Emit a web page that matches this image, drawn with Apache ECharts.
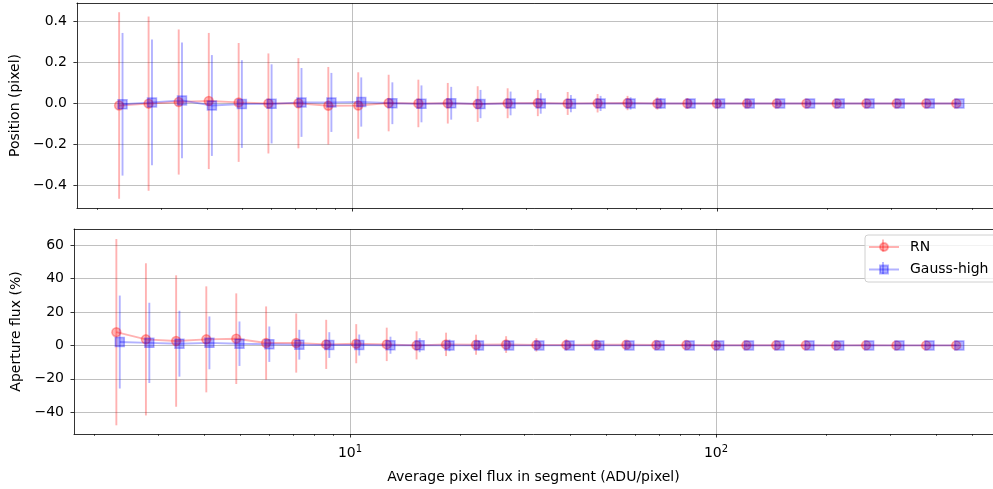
<!DOCTYPE html>
<html>
<head>
<meta charset="utf-8">
<script src="https://cdn.jsdelivr.net/npm/echarts@6/dist/echarts.min.js"></script>
<style>
html,body{margin:0;padding:0;background:#fff;}
#c{width:993px;height:489px;}
</style>
</head>
<body>
<div id="c"></div>
<script>
// ---- data ----
const xFlux = [2.30, 2.77, 3.35, 4.05, 4.89, 5.90, 7.13, 8.61, 10.4, 12.6, 15.2, 18.3, 22.1, 26.7, 32.3, 39.0, 47.1, 56.9, 68.7, 83.0, 100, 121, 146, 176, 213, 257, 311, 375, 453];
const xFluxGauss = [2.35, 2.83, 3.42, 4.13, 4.99, 6.02, 7.27, 8.78, 10.6, 12.9, 15.5, 18.7, 22.5, 27.2, 32.9, 39.8, 48.0, 58.0, 70.1, 84.7, 102, 123, 149, 180, 217, 262, 317, 383, 462];

const posRN = [-0.010, -0.001, 0.007, 0.012, 0.005, 0.000, 0.001, -0.011, -0.010, 0.002, 0.000, 0.001, -0.003, 0.001, 0.002, 0.000, 0.001, 0.002, 0.000, 0.000, 0.000, 0.000, 0.000, 0.000, 0.000, 0.000, 0.000, 0.000, 0.000];
const posRNErr = [0.455, 0.425, 0.354, 0.332, 0.290, 0.244, 0.220, 0.189, 0.162, 0.138, 0.116, 0.099, 0.087, 0.073, 0.064, 0.056, 0.045, 0.035, 0.030, 0.026, 0.021, 0.017, 0.014, 0.012, 0.010, 0.008, 0.007, 0.006, 0.005];
const posGauss = [-0.004, 0.005, 0.015, -0.010, -0.003, -0.002, 0.005, 0.005, 0.007, 0.001, -0.002, 0.001, -0.003, 0.000, 0.000, -0.001, 0.000, 0.000, 0.000, 0.000, 0.000, 0.000, 0.000, 0.000, 0.000, 0.000, 0.000, 0.000, 0.000];
const posGaussErr = [0.348, 0.307, 0.282, 0.246, 0.214, 0.193, 0.168, 0.144, 0.120, 0.102, 0.090, 0.080, 0.069, 0.058, 0.050, 0.042, 0.037, 0.030, 0.025, 0.020, 0.016, 0.013, 0.011, 0.009, 0.007, 0.006, 0.005, 0.004, 0.004];

const apRN = [7.9, 3.6, 2.6, 3.6, 4.0, 1.4, 1.4, 0.6, 1.0, 0.6, 0.0, 0.6, 0.4, 0.5, 0.3, 0.3, 0.4, 0.4, 0.2, 0.2, 0.1, 0.1, 0.1, 0.1, 0.0, 0.1, 0.0, 0.0, 0.0];
const apRNErr = [55.7, 45.5, 39.3, 31.7, 27.1, 21.9, 17.7, 14.7, 11.7, 10.0, 8.4, 7.0, 6.0, 5.0, 4.0, 3.3, 2.7, 2.2, 1.8, 1.5, 1.2, 1.0, 0.8, 0.7, 0.6, 0.5, 0.4, 0.35, 0.3];
const apGauss = [2.0, 1.5, 1.0, 1.5, 1.0, 0.7, 0.4, 0.2, 0.2, 0.1, 0.1, 0.0, 0.0, 0.0, 0.0, 0.0, 0.0, 0.0, 0.0, 0.0, 0.0, 0.0, 0.0, 0.0, 0.0, 0.0, 0.0, 0.0, 0.0];
const apGaussErr = [27.8, 24.0, 19.7, 15.8, 13.3, 10.6, 8.9, 7.7, 6.3, 5.1, 4.2, 3.5, 3.0, 2.5, 2.1, 1.7, 1.4, 1.2, 1.0, 0.8, 0.7, 0.6, 0.5, 0.4, 0.35, 0.3, 0.25, 0.2, 0.2];

const xMajorTicks = [10, 100];
const xMinorTicks = [2, 3, 4, 5, 6, 7, 8, 9, 20, 30, 40, 50, 60, 70, 80, 90, 200, 300, 400, 500];
const posTicks = [-0.4, -0.2, 0.0, 0.2, 0.4];
const apTicks = [-40, -20, 0, 20, 40, 60];

const seriesNames = ['RN', 'Gauss-high'];
const xName = 'Average pixel flux in segment (ADU/pixel)';
const yNames = ['Position (pixel)', 'Aperture flux (%)'];

// ---- chart ----
const FONT = 'DejaVu Sans';
const FS = 14;
const RED = 'rgba(255,0,0,0.3)';
const BLUE = 'rgba(0,0,255,0.3)';

const chart = echarts.init(document.getElementById('c'), null, {renderer: 'canvas'});

function minusFmt(v, digits) {
  return Number(v).toFixed(digits).replace('-', '\u2212');
}

const X_MIN = 1.762, X_MAX = 571;

function xAxesFor(gridIndex, showLabels) {
  return [
    {
      type: 'log', gridIndex, min: X_MIN, max: X_MAX, position: 'bottom',
      axisLine: {show: true, onZero: false, lineStyle: {color: '#000', width: 0.8}},
      axisTick: {show: true, customValues: xMajorTicks, length: 3.5, lineStyle: {color: '#000', width: 0.8}},
      axisLabel: {
        show: showLabels, customValues: xMajorTicks, margin: 10, color: '#000',
        fontFamily: FONT, fontSize: FS,
        formatter: v => '10{s|' + Math.round(Math.log10(v)) + '}',
        rich: {s: {fontSize: 10, verticalAlign: 'top', padding: [0,0,8,0], fontFamily: FONT, color: '#000'}}
      },
      splitLine: {show: true, customValues: xMajorTicks, lineStyle: {color: '#b0b0b0', width: 0.8}},
      name: showLabels ? xName : '', nameLocation: 'middle', nameGap: 36,
      nameTextStyle: {fontFamily: FONT, fontSize: FS, color: '#000'}
    },
    {
      type: 'log', gridIndex, min: X_MIN, max: X_MAX, position: 'bottom',
      axisLine: {show: false, onZero: false},
      axisTick: {show: true, customValues: xMinorTicks, length: 2, lineStyle: {color: '#000', width: 0.6}},
      axisLabel: {show: false},
      splitLine: {show: false}
    },
    {
      type: 'log', gridIndex, min: X_MIN, max: X_MAX, position: 'top',
      axisLine: {show: true, onZero: false, lineStyle: {color: '#000', width: 0.8}},
      axisTick: {show: false}, axisLabel: {show: false}, splitLine: {show: false}
    }
  ];
}

function yAxisFor(gridIndex, min, max, ticks, digits, name, gap) {
  return {
    type: 'value', gridIndex, min, max,
    axisLine: {show: true, onZero: false, lineStyle: {color: '#000', width: 0.8}},
    axisTick: {show: true, customValues: ticks, length: 3.5, lineStyle: {color: '#000', width: 0.8}},
    axisLabel: {customValues: ticks, margin: 10, color: '#000', fontFamily: FONT, fontSize: FS,
      formatter: v => minusFmt(v, digits)},
    splitLine: {show: true, customValues: ticks, lineStyle: {color: '#b0b0b0', width: 0.8}},
    name, nameLocation: 'middle', nameGap: gap, nameRotate: 90,
    nameTextStyle: {fontFamily: FONT, fontSize: FS, color: '#000'}
  };
}

function errSeries(name, xs, ys, es, xAxisIndex, yAxisIndex, color) {
  return {
    type: 'custom', name: name + ' error', xAxisIndex, yAxisIndex, silent: true,
    itemStyle: {color},
    data: xs.map((x, i) => [x, ys[i] - es[i], ys[i] + es[i]]),
    encode: {x: 0, y: [1, 2]},
    renderItem: (params, api) => {
      const p1 = api.coord([api.value(0), api.value(1)]);
      const p2 = api.coord([api.value(0), api.value(2)]);
      return {type: 'line', shape: {x1: p1[0], y1: p1[1], x2: p2[0], y2: p2[1]},
              style: {stroke: color, lineWidth: 1.9}};
    }
  };
}

function lineSeries(name, xs, ys, xAxisIndex, yAxisIndex, color, symbol) {
  return {
    type: 'line', name, xAxisIndex, yAxisIndex,
    data: xs.map((x, i) => [x, ys[i]]),
    symbol, symbolSize: 9,
    showSymbol: true,
    color: color,
    lineStyle: {color, width: 1.9},
    itemStyle: {color, borderColor: color, borderWidth: 1.5},
    emphasis: {disabled: true}
  };
}

const option = {
  animation: false,
  textStyle: {fontFamily: FONT},
  grid: [
    {left: 74, top: 3, right: 0, height: 205, show: false},
    {left: 74, top: 229, right: 0, height: 205, show: false}
  ],
  xAxis: [...xAxesFor(0, false), ...xAxesFor(1, true)],
  yAxis: [
    yAxisFor(0, -0.51, 0.49, posTicks, 1, yNames[0], 46),
    yAxisFor(1, -53, 69.6, apTicks, 0, yNames[1], 38)
  ],
  legend: {
    show: true, orient: 'vertical', left: 865, top: 235,
    data: seriesNames,
    itemWidth: 30, itemHeight: 10, itemGap: 8.5,
    padding: [5, 8, 5.5, 3],
    backgroundColor: 'rgba(255,255,255,0.8)', borderColor: '#d0d0d0', borderWidth: 1, borderRadius: 3,
    textStyle: {fontFamily: FONT, fontSize: FS, color: '#000', padding: [0, 0, 0, 6]},
    selectedMode: false
  },
  graphic: [
    {type: 'line', z: 200, shape: {x1: 883, y1: 239.5, x2: 883, y2: 251.5}, style: {stroke: RED, lineWidth: 1.9}},
    {type: 'line', z: 200, shape: {x1: 883, y1: 262, x2: 883, y2: 274}, style: {stroke: BLUE, lineWidth: 1.9}}
  ],
  series: [
    errSeries(seriesNames[0], xFlux, posRN, posRNErr, 0, 0, RED),
    lineSeries(seriesNames[0], xFlux, posRN, 0, 0, RED, 'circle'),
    errSeries(seriesNames[1], xFluxGauss, posGauss, posGaussErr, 0, 0, BLUE),
    lineSeries(seriesNames[1], xFluxGauss, posGauss, 0, 0, BLUE, 'rect'),
    errSeries(seriesNames[0], xFlux, apRN, apRNErr, 3, 1, RED),
    lineSeries(seriesNames[0], xFlux, apRN, 3, 1, RED, 'circle'),
    errSeries(seriesNames[1], xFluxGauss, apGauss, apGaussErr, 3, 1, BLUE),
    lineSeries(seriesNames[1], xFluxGauss, apGauss, 3, 1, BLUE, 'rect')
  ]
};
chart.setOption(option);
</script>
</body>
</html>
